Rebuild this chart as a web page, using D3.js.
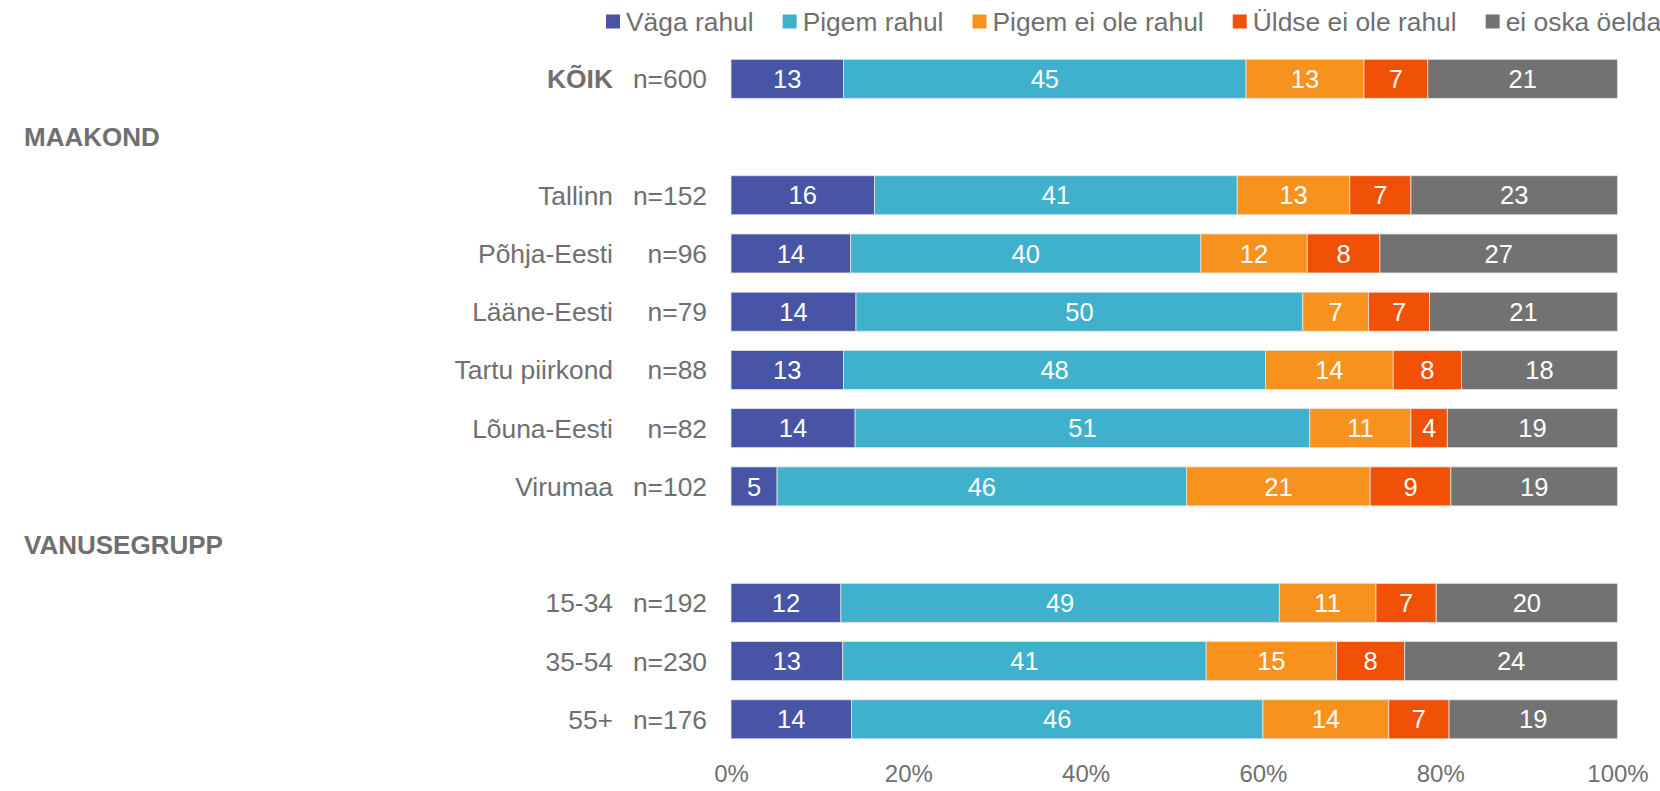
<!DOCTYPE html>
<html>
<head>
<meta charset="utf-8">
<script src="https://cdn.jsdelivr.net/npm/d3@7"></script>
<style>
  html, body { margin: 0; padding: 0; background: #ffffff; }
  svg { display: block; font-family: "Liberation Sans", Arial, sans-serif; }
</style>
</head>
<body>
<svg id="chart" width="1660" height="791"></svg>
<script>
// ---- Data ----
const rowLabels = ["KÕIK", "MAAKOND", "Tallinn", "Põhja-Eesti", "Lääne-Eesti", "Tartu piirkond",
  "Lõuna-Eesti", "Virumaa", "VANUSEGRUPP", "15-34", "35-54", "55+"];
const headerRows = ["MAAKOND", "VANUSEGRUPP"];
const boldRows = ["KÕIK"];
const nLabels = ["n=600", "", "n=152", "n=96", "n=79", "n=88", "n=82", "n=102", "", "n=192", "n=230", "n=176"];

const seriesNames = ["Väga rahul", "Pigem rahul", "Pigem ei ole rahul", "Üldse ei ole rahul", "ei oska öelda"];
const seriesColors = ["#4854A5", "#3FB1CD", "#F7921E", "#F05106", "#727272"];

const vagaRahul       = [12.7, null, 16.2, 13.5, 14.1, 12.7, 14.0, 5.2, null, 12.4, 12.6, 13.6];
const pigemRahul      = [45.4, null, 40.9, 39.5, 50.4, 47.6, 51.3, 46.2, null, 49.45, 41.0, 46.4];
const pigemEiOleRahul = [13.3, null, 12.7, 12.0, 7.4, 14.4, 11.4, 20.7, null, 10.9, 14.7, 14.2];
const yldseEiOleRahul = [7.2, null, 6.9, 8.2, 6.9, 7.7, 4.1, 9.1, null, 6.8, 7.7, 6.8];
const eiOskaOelda     = [21.4, null, 23.3, 26.8, 21.2, 17.6, 19.2, 18.8, null, 20.45, 24.0, 19.0];

const tickValues = [0, 20, 40, 60, 80, 100];

// ---- Layout ----
const svg = d3.select("#chart");
const textColor = "#6f6f6f";
const x = d3.scaleLinear().domain([0, 100]).range([731, 1617.5]);
const y = d3.scalePoint().domain(rowLabels).range([78.8, 719.3]);
const barH = 39;

const seriesValues = [vagaRahul, pigemRahul, pigemEiOleRahul, yldseEiOleRahul, eiOskaOelda];

// build stacked segments
const segments = [];
rowLabels.forEach((lab, i) => {
  if (vagaRahul[i] == null) return;
  let cum = 0;
  seriesValues.forEach((arr, s) => {
    const v = arr[i];
    segments.push({row: lab, s, x0: cum, x1: cum + v, v});
    cum += v;
  });
});

const gBars = svg.append("g");
gBars.selectAll("rect").data(segments).join("rect")
  .attr("x", d => x(d.x0))
  .attr("y", d => y(d.row) - barH / 2)
  .attr("width", d => x(d.x1) - x(d.x0))
  .attr("height", barH)
  .attr("fill", d => seriesColors[d.s])
  .attr("stroke", "#e3e3e3")
  .attr("stroke-width", 0.8);

gBars.selectAll("text").data(segments).join("text")
  .attr("x", d => (x(d.x0) + x(d.x1)) / 2)
  .attr("y", d => y(d.row))
  .attr("dy", "0.36em")
  .attr("text-anchor", "middle")
  .attr("fill", "#ffffff")
  .style("font-size", "25.5px")
  .text(d => Math.round(d.v));

// row labels
const gLabels = svg.append("g");
rowLabels.forEach((lab, i) => {
  if (headerRows.includes(lab)) {
    gLabels.append("text")
      .attr("x", 24).attr("y", y(lab)).attr("dy", "0.36em")
      .attr("fill", textColor).style("font-size", "26px").style("font-weight", "bold")
      .text(lab);
  } else {
    gLabels.append("text")
      .attr("x", 613).attr("y", y(lab)).attr("dy", "0.36em")
      .attr("text-anchor", "end")
      .attr("fill", textColor).style("font-size", "26.4px")
      .style("font-weight", boldRows.includes(lab) ? "bold" : "normal")
      .text(lab);
    gLabels.append("text")
      .attr("x", 707).attr("y", y(lab)).attr("dy", "0.36em")
      .attr("text-anchor", "end")
      .attr("fill", textColor).style("font-size", "26.4px")
      .text(nLabels[i]);
  }
});

// x axis
const xAxis = d3.axisBottom(x).tickValues(tickValues).tickFormat(d => d + "%").tickSize(0).tickPadding(0);
const gAxis = svg.append("g").attr("transform", "translate(0,765)").call(xAxis);
gAxis.select(".domain").remove();
gAxis.selectAll("text").attr("fill", textColor).style("font-size", "24px")
  .style("font-family", "'Liberation Sans', Arial, sans-serif").attr("dy", "0.71em");

// legend
const gLeg = svg.append("g");
let lx = 606;
seriesNames.forEach((name, s) => {
  gLeg.append("rect").attr("x", lx).attr("y", 14.5).attr("width", 14).attr("height", 14)
    .attr("fill", seriesColors[s]);
  const t = gLeg.append("text").attr("x", lx + 20).attr("y", 21.5).attr("dy", "0.36em")
    .attr("fill", textColor).style("font-size", "26.4px").text(name);
  lx += 20 + t.node().getComputedTextLength() + 29;
});
</script>
</body>
</html>
